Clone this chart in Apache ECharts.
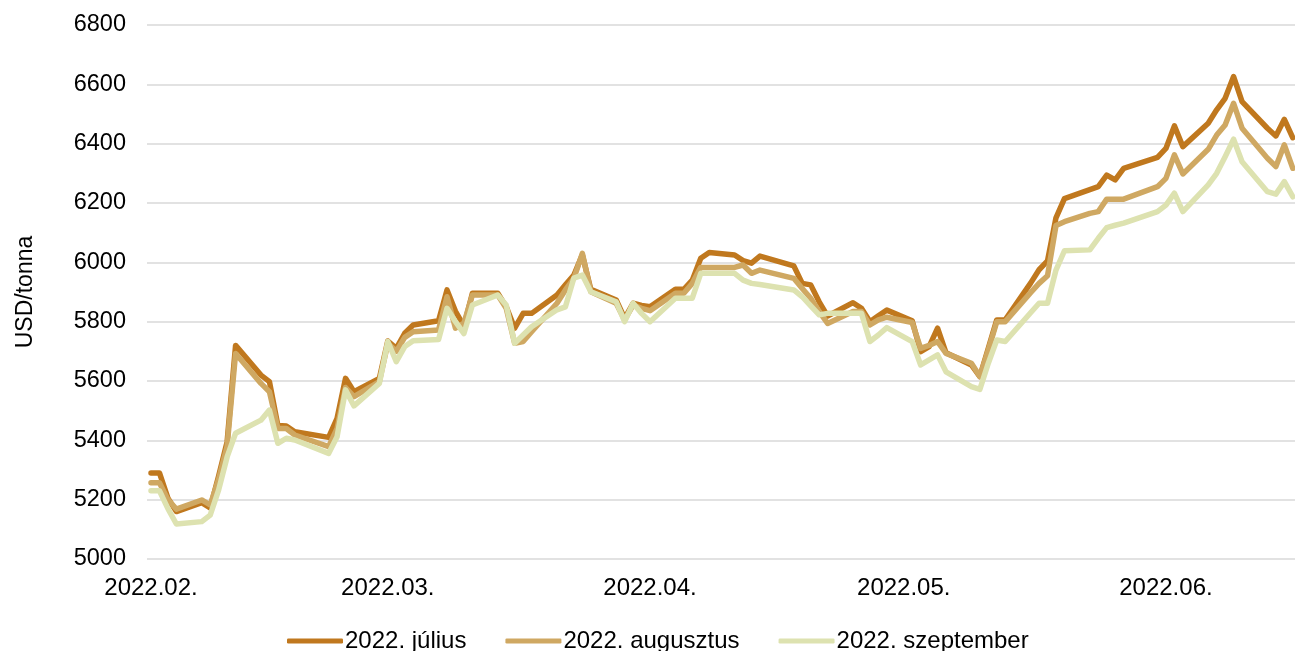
<!DOCTYPE html>
<html>
<head>
<meta charset="utf-8">
<script src="https://cdn.jsdelivr.net/npm/echarts@6/dist/echarts.min.js"></script>
<style>html,body{margin:0;padding:0;background:#fff}#c{width:1295px;height:651px}</style>
</head>
<body>
<div id="c"></div>
<script>
const dates = [
  '2022-02-01','2022-02-02','2022-02-03','2022-02-04','2022-02-07','2022-02-08','2022-02-09','2022-02-10','2022-02-11','2022-02-14','2022-02-15','2022-02-16','2022-02-17','2022-02-18','2022-02-22','2022-02-23','2022-02-24','2022-02-25','2022-02-28',
  '2022-03-01','2022-03-02','2022-03-03','2022-03-04','2022-03-07','2022-03-08','2022-03-09','2022-03-10','2022-03-11','2022-03-14','2022-03-15','2022-03-16','2022-03-17','2022-03-18','2022-03-21','2022-03-22','2022-03-23','2022-03-24','2022-03-25','2022-03-28','2022-03-29','2022-03-30','2022-03-31',
  '2022-04-01','2022-04-04','2022-04-05','2022-04-06','2022-04-07','2022-04-08','2022-04-11','2022-04-12','2022-04-13','2022-04-14','2022-04-18','2022-04-19','2022-04-20','2022-04-21','2022-04-22','2022-04-25','2022-04-26','2022-04-27','2022-04-28','2022-04-29',
  '2022-05-02','2022-05-03','2022-05-04','2022-05-05','2022-05-06','2022-05-09','2022-05-10','2022-05-11','2022-05-12','2022-05-13','2022-05-16','2022-05-17','2022-05-18','2022-05-19','2022-05-20','2022-05-23','2022-05-24','2022-05-25','2022-05-26','2022-05-27','2022-05-31',
  '2022-06-01','2022-06-02','2022-06-03','2022-06-06','2022-06-07','2022-06-08','2022-06-09','2022-06-10','2022-06-13','2022-06-14','2022-06-15','2022-06-16'
];

const julius = [
  5290,5290,5205,5160,5190,5172,5280,5395,5720,5620,5598,5450,5448,5429,5410,5474,5609,5564,5609,
  5735,5710,5761,5789,5803,5907,5835,5785,5896,5896,5850,5778,5828,5828,5890,5924,5957,6025,5909,5873,5811,5862,5855,
  5850,5909,5909,5940,6014,6033,6025,6006,5997,6021,5988,5929,5924,5867,5819,5864,5845,5800,5820,5839,
  5803,5699,5716,5778,5695,5654,5615,5710,5806,5806,5930,5975,6005,6150,6215,6245,6255,6294,6278,6317,6354,
  6384,6460,6390,6469,6514,6553,6626,6542,6452,6426,6482,6420
];

const augusztus = [
  5257,5257,5200,5168,5199,5182,5270,5380,5693,5592,5564,5440,5440,5418,5379,5440,5578,5547,5598,
  5727,5700,5747,5766,5772,5884,5778,5795,5890,5890,5845,5727,5733,5766,5862,5907,5946,6030,5901,5862,5806,5856,5845,
  5837,5896,5896,5929,5983,5983,5983,5991,5963,5974,5946,5912,5879,5834,5794,5834,5834,5789,5806,5815,
  5797,5710,5720,5733,5693,5660,5615,5705,5800,5800,5898,5929,5955,6124,6137,6165,6171,6213,6213,6213,6255,
  6283,6362,6298,6381,6429,6463,6536,6452,6351,6323,6396,6317
];

const szeptember = [
  5230,5230,5170,5118,5126,5148,5233,5344,5424,5468,5502,5390,5407,5401,5356,5412,5570,5516,5592,
  5733,5665,5716,5736,5740,5845,5800,5760,5856,5890,5856,5727,5755,5783,5840,5850,5947,5957,5901,5867,5800,5862,5828,
  5800,5879,5879,5879,5963,5963,5963,5940,5929,5925,5907,5884,5853,5823,5828,5828,5828,5733,5755,5780,
  5733,5654,5671,5688,5631,5581,5572,5660,5738,5733,5830,5862,5862,5974,6039,6042,6081,6117,6125,6132,6171,
  6193,6233,6171,6261,6300,6356,6415,6339,6238,6230,6272,6221
];

const seriesNames = ['2022. július', '2022. augusztus', '2022. szeptember'];
const seriesColors = ['#C0781E', '#CFA862', '#DDE2B0'];
const yMin = 5000, yMax = 6800, yStep = 200;
const yTitle = 'USD/tonna';

const DAY = 86400000;
function toTime(s) { const p = s.split('-').map(Number); return new Date(p[0], p[1] - 1, p[2]).getTime(); }
function pad(n) { return (n < 10 ? '0' : '') + n; }

const xMin = toTime(dates[0]) - 0.473 * DAY;
const xMax = toTime(dates[dates.length - 1]) + 0.26 * DAY;

const FONT = "'Liberation Sans', Arial, sans-serif";
const chart = echarts.init(document.getElementById('c'), null, { renderer: 'canvas' });

const allSeries = [julius, augusztus, szeptember];
chart.setOption({
  animation: false,
  backgroundColor: '#fff',
  textStyle: { fontFamily: FONT },
  grid: { left: 147, right: 0, top: 25, bottom: 92, containLabel: false },
  legend: {
    data: seriesNames,
    top: 624,
    left: 282,
    itemWidth: 56,
    itemHeight: 5,
    itemGap: 39,
    icon: 'roundRect',
    textStyle: { fontSize: 24, color: '#000', fontFamily: FONT, padding: [0, 0, 0, -3] }
  },
  xAxis: {
    type: 'time',
    min: xMin,
    max: xMax,
    splitNumber: 5,
    minInterval: 28 * DAY,
    axisLine: { show: false },
    axisTick: { show: false },
    splitLine: { show: false },
    axisLabel: {
      fontSize: 24,
      color: '#000',
      fontFamily: FONT,
      margin: 17,
      hideOverlap: false,
      formatter: function (v) {
        const d = new Date(v);
        return d.getDate() === 1 ? d.getFullYear() + '.' + pad(d.getMonth() + 1) + '.' : '';
      }
    }
  },
  yAxis: {
    type: 'value',
    min: yMin,
    max: yMax,
    interval: yStep,
    name: yTitle,
    nameLocation: 'middle',
    nameGap: 110,
    nameTextStyle: { fontSize: 23, color: '#000', fontFamily: FONT },
    axisLine: { show: false },
    axisTick: { show: false },
    axisLabel: { fontSize: 23.5, color: '#000', fontFamily: FONT, margin: 21, formatter: function (v) { return String(v); } },
    splitLine: { lineStyle: { color: '#d9d9d9', width: 1.5 } }
  },
  series: seriesNames.map(function (name, i) {
    return {
      name: name,
      type: 'line',
      showSymbol: false,
      symbol: 'none',
      color: seriesColors[i],
      lineStyle: { width: 5.5, color: seriesColors[i], cap: 'round', join: 'round' },
      itemStyle: { color: seriesColors[i] },
      data: dates.map(function (d, k) { return [toTime(d), allSeries[i][k]]; })
    };
  })
});
</script>
</body>
</html>
